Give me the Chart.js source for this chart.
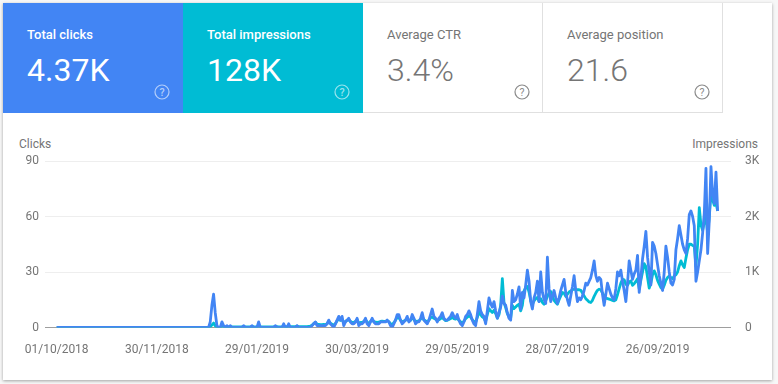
<!DOCTYPE html>
<html>
<head>
<meta charset="utf-8">
<title>Performance</title>
<script src="https://cdn.jsdelivr.net/npm/chart.js@4"></script>
<style>
  html, body { margin: 0; padding: 0; width: 778px; height: 384px; overflow: hidden; background: #f7f7f7; font-family: Roboto, sans-serif; }
  #card { position: absolute; left: 3px; top: 3px; width: 769px; height: 377px; background: #fff; box-shadow: 0 1px 3px rgba(0, 0, 0, 0.35); }
  .tile { position: absolute; top: 0; width: 180px; height: 110px; box-sizing: border-box; color: #757575; border-right: 1px solid #e0e0e0; border-bottom: 1px solid #e0e0e0; }
  .tile.on { color: #fff; border: 0; font-weight: 500; }
  .tile .name { position: absolute; left: 24px; top: 24px; font-size: 13px; line-height: 16px; font-weight: 400; }
  .tile.on .name { font-weight: 500; }
  .tile .num { position: absolute; left: 24px; top: 48px; font-size: 32px; line-height: 38px; font-weight: 300; }
  .tile.on .num { font-weight: 400; }
  .tile svg { position: absolute; left: 151px; top: 81px; }
  .axis-name { position: absolute; top: 137px; font-size: 12px; line-height: 14px; color: #757575; }
  #myChart { position: absolute; left: 3px; top: 141px; }
</style>
</head>
<body>
<div id="card"></div>
<div id="tiles"></div>
<div class="axis-name" style="left:19px">Clicks</div>
<div class="axis-name" style="right:20px">Impressions</div>
<canvas id="myChart" width="770" height="230"></canvas>
<script>
// one value per day, ten per row
const clicks = [
  0, 0, 0, 0, 0, 0, 0, 0, 0, 0,
  0, 0, 0, 0, 0, 0, 0, 0, 0, 0,
  0, 0, 0, 0, 0, 0, 0, 0, 0, 0,
  0, 0, 0, 0, 0, 0, 0, 0, 0, 0,
  0, 0, 0, 0, 0, 0, 0, 0, 0, 0,
  0, 0, 0, 0, 0, 0, 0, 0, 0, 0,
  0, 0, 0, 0, 0, 0, 0, 0, 0, 0,
  0, 0, 0, 0, 0, 0, 0, 0, 0, 0,
  0, 0, 0, 0, 0, 0, 0, 0, 0, 0,
  0, 0, 3, 12, 18, 8, 1, 0, 0, 3,
  1, 0, 1, 0, 1, 0, 0, 0, 0, 0,
  0, 0, 1, 0, 0, 0, 0, 1, 0, 0,
  0, 3, 0, 0, 0, 0, 0, 0, 0, 0,
  0, 1, 0, 0, 0, 0, 2, 0, 0, 2,
  0, 0, 0, 0, 1, 0, 0, 0, 0, 0,
  0, 0, 0, 1, 2, 3, 1, 1, 1, 1,
  1, 1, 2, 4, 2, 1, 0, 2, 4, 6,
  4, 6, 1, 3, 4, 5, 3, 2, 2, 3,
  5, 1, 2, 2, 3, 5, 2, 1, 3, 5,
  3, 2, 2, 2, 3, 3, 3, 3, 4, 3,
  1, 0, 2, 4, 7, 7, 4, 2, 3, 4,
  6, 3, 4, 7, 5, 2, 3, 3, 5, 8,
  4, 3, 2, 4, 7, 10, 6, 5, 3, 5,
  6, 8, 5, 4, 4, 5, 6, 8, 6, 5,
  7, 4, 2, 1, 3, 6, 7, 9, 7, 4,
  2, 1, 7, 14, 9, 7, 6, 2, 9, 16,
  13, 11, 14, 9, 5, 8, 11, 17, 13, 12,
  8, 5, 4, 20, 14, 15, 18, 22, 10, 19,
  16, 23, 31, 25, 14, 10, 16, 19, 25, 14,
  30, 19, 15, 13, 38, 21, 14, 17, 20, 16,
  13, 16, 20, 23, 26, 19, 15, 12, 17, 22,
  28, 20, 14, 16, 15, 17, 20, 24, 23, 25,
  27, 31, 36, 28, 25, 27, 26, 18, 12, 18,
  24, 21, 18, 16, 15, 21, 30, 28, 31, 25,
  20, 14, 24, 36, 31, 26, 29, 31, 39, 19,
  27, 37, 44, 52, 38, 30, 23, 46, 44, 40,
  34, 28, 24, 20, 30, 44, 38, 30, 24, 23,
  26, 42, 48, 55, 50, 45, 42, 40, 48, 61,
  63, 60, 55, 25, 30, 36, 42, 51, 62, 86,
  40, 58, 87, 72, 67, 84, 63,
];
const impressions = [
  0, 0, 0, 0, 0, 0, 0, 0, 0, 0,
  0, 0, 0, 0, 0, 0, 0, 0, 0, 0,
  0, 0, 0, 0, 0, 0, 0, 0, 0, 0,
  0, 0, 0, 0, 0, 0, 0, 0, 0, 0,
  0, 0, 0, 0, 0, 0, 0, 0, 0, 0,
  0, 0, 0, 0, 0, 0, 0, 0, 0, 0,
  0, 0, 0, 0, 0, 0, 0, 0, 0, 0,
  0, 0, 0, 0, 0, 0, 0, 0, 0, 0,
  0, 0, 0, 0, 0, 0, 0, 0, 0, 0,
  0, 0, 15, 45, 80, 30, 5, 0, 0, 30,
  15, 10, 15, 5, 15, 10, 10, 10, 10, 10,
  10, 10, 20, 10, 10, 10, 10, 20, 10, 10,
  10, 35, 15, 10, 10, 10, 10, 10, 10, 10,
  10, 20, 15, 10, 10, 10, 30, 15, 15, 30,
  15, 15, 15, 15, 25, 15, 15, 15, 15, 15,
  15, 20, 25, 40, 70, 95, 60, 55, 50, 50,
  55, 50, 70, 110, 80, 55, 45, 70, 120, 150,
  130, 150, 80, 110, 130, 140, 110, 90, 90, 110,
  140, 80, 90, 90, 110, 140, 100, 70, 110, 140,
  110, 95, 90, 95, 110, 115, 110, 110, 125, 105,
  70, 50, 85, 130, 185, 175, 130, 100, 115, 130,
  160, 120, 130, 170, 150, 100, 115, 115, 150, 195,
  140, 120, 100, 130, 175, 190, 165, 150, 125, 140,
  160, 180, 150, 125, 130, 145, 160, 185, 160, 150,
  170, 130, 100, 90, 110, 160, 185, 210, 190, 140,
  110, 95, 180, 290, 230, 190, 170, 110, 230, 340,
  300, 270, 310, 250, 170, 230, 400, 880, 450, 360,
  250, 190, 170, 400, 340, 370, 400, 420, 300, 400,
  660, 720, 740, 640, 480, 420, 480, 520, 540, 470,
  520, 450, 420, 480, 560, 620, 650, 560, 490, 450,
  420, 500, 570, 630, 620, 560, 600, 640, 660, 680,
  690, 680, 680, 680, 670, 620, 570, 520, 490, 460,
  450, 490, 560, 620, 670, 690, 680, 620, 570, 530,
  520, 510, 500, 490, 480, 500, 590, 700, 800, 870,
  860, 780, 760, 820, 840, 760, 790, 830, 880, 700,
  850, 1000, 1150, 1100, 900, 710, 800, 950, 1020, 950,
  850, 780, 720, 690, 760, 850, 900, 930, 900, 880,
  930, 950, 1000, 1114, 1200, 1130, 1080, 1250, 1400, 1500,
  1500, 1480, 1460, 1100, 1500, 2160, 1850, 1750, 1900, 2000,
  1700, 2000, 2400, 2300, 2200, 2250, 2100,
];
const dateTicks = ['01/10/2018', '30/11/2018', '29/01/2019', '30/03/2019', '29/05/2019', '28/07/2019', '26/09/2019'];
const tileNames = ['Total clicks', 'Total impressions', 'Average CTR', 'Average position'];
const tileValues = ['4.37K', '128K', '3.4%', '21.6'];
const tileColors = ['#4285f4', '#00bcd4', '', ''];

const helpIcon = (color) => `<svg width="16" height="16" viewBox="0 0 16 16">
  <circle cx="8" cy="8" r="7" fill="none" stroke="${color}" stroke-width="1.2"/>
  <text x="8" y="11.5" text-anchor="middle" font-size="10.5" font-family="Roboto" fill="${color}">?</text>
</svg>`;

// metric tiles along the top
const tiles = document.getElementById('tiles');
tileNames.forEach((name, i) => {
  const tile = document.createElement('div');
  tile.className = tileColors[i] ? 'tile on' : 'tile';
  tile.style.left = `${3 + i * 180}px`;
  tile.style.top = '3px';
  tile.style.background = tileColors[i] || '#fff';
  tile.innerHTML = `<div class="name">${name}</div><div class="num">${tileValues[i]}</div>`
    + helpIcon(tileColors[i] ? 'rgba(255,255,255,0.6)' : '#8a8a8a');
  tiles.appendChild(tile);
});

const tickFont = { family: 'Roboto', size: 12 };
const toPoints = (values) => values.map((y, x) => ({ x, y }));

new Chart(document.getElementById('myChart').getContext('2d'), {
  type: 'line',
  data: {
    datasets: [
      { label: 'Clicks', data: toPoints(clicks), yAxisID: 'yClicks', borderColor: '#4285f4', order: 1 },
      { label: 'Impressions', data: toPoints(impressions), yAxisID: 'yImpressions', borderColor: '#00bcd4', order: 2 },
    ],
  },
  options: {
    responsive: false,
    animation: false,
    layout: { padding: { top: 20 } },
    elements: {
      point: { radius: 0 },
      line: { borderWidth: 2.8, tension: 0, borderJoinStyle: 'round' },
    },
    plugins: { legend: { display: false }, tooltip: { enabled: false } },
    scales: {
      x: {
        type: 'linear',
        min: -7,
        max: 404,
        // one tick label every 60 days
        afterBuildTicks: (axis) => {
          axis.ticks = dateTicks.map((_, i) => ({ value: i * 60 }));
        },
        afterFit: (axis) => { axis.height = 43.5; },
        grid: { display: false },
        border: { display: false },
        ticks: {
          autoSkip: false,
          maxRotation: 0,
          padding: 7,
          color: '#757575',
          font: tickFont,
          callback: (value) => dateTicks[value / 60],
        },
      },
      yClicks: {
        position: 'left',
        min: 0,
        max: 90,
        afterFit: (axis) => { axis.width = 42; },
        grid: {
          drawTicks: false,
          color: (ctx) => (ctx.tick.value === 0 ? '#9e9e9e' : '#eeeeee'),
        },
        border: { display: false },
        ticks: { stepSize: 30, padding: 6, color: '#757575', font: tickFont },
      },
      yImpressions: {
        position: 'right',
        min: 0,
        max: 3000,
        afterFit: (axis) => { axis.width = 42; },
        grid: { display: false },
        border: { display: false },
        ticks: {
          stepSize: 1000,
          padding: 6,
          color: '#757575',
          font: tickFont,
          callback: (value) => (value === 0 ? '0' : `${value / 1000}K`),
        },
      },
    },
  },
});
</script>
</body>
</html>
